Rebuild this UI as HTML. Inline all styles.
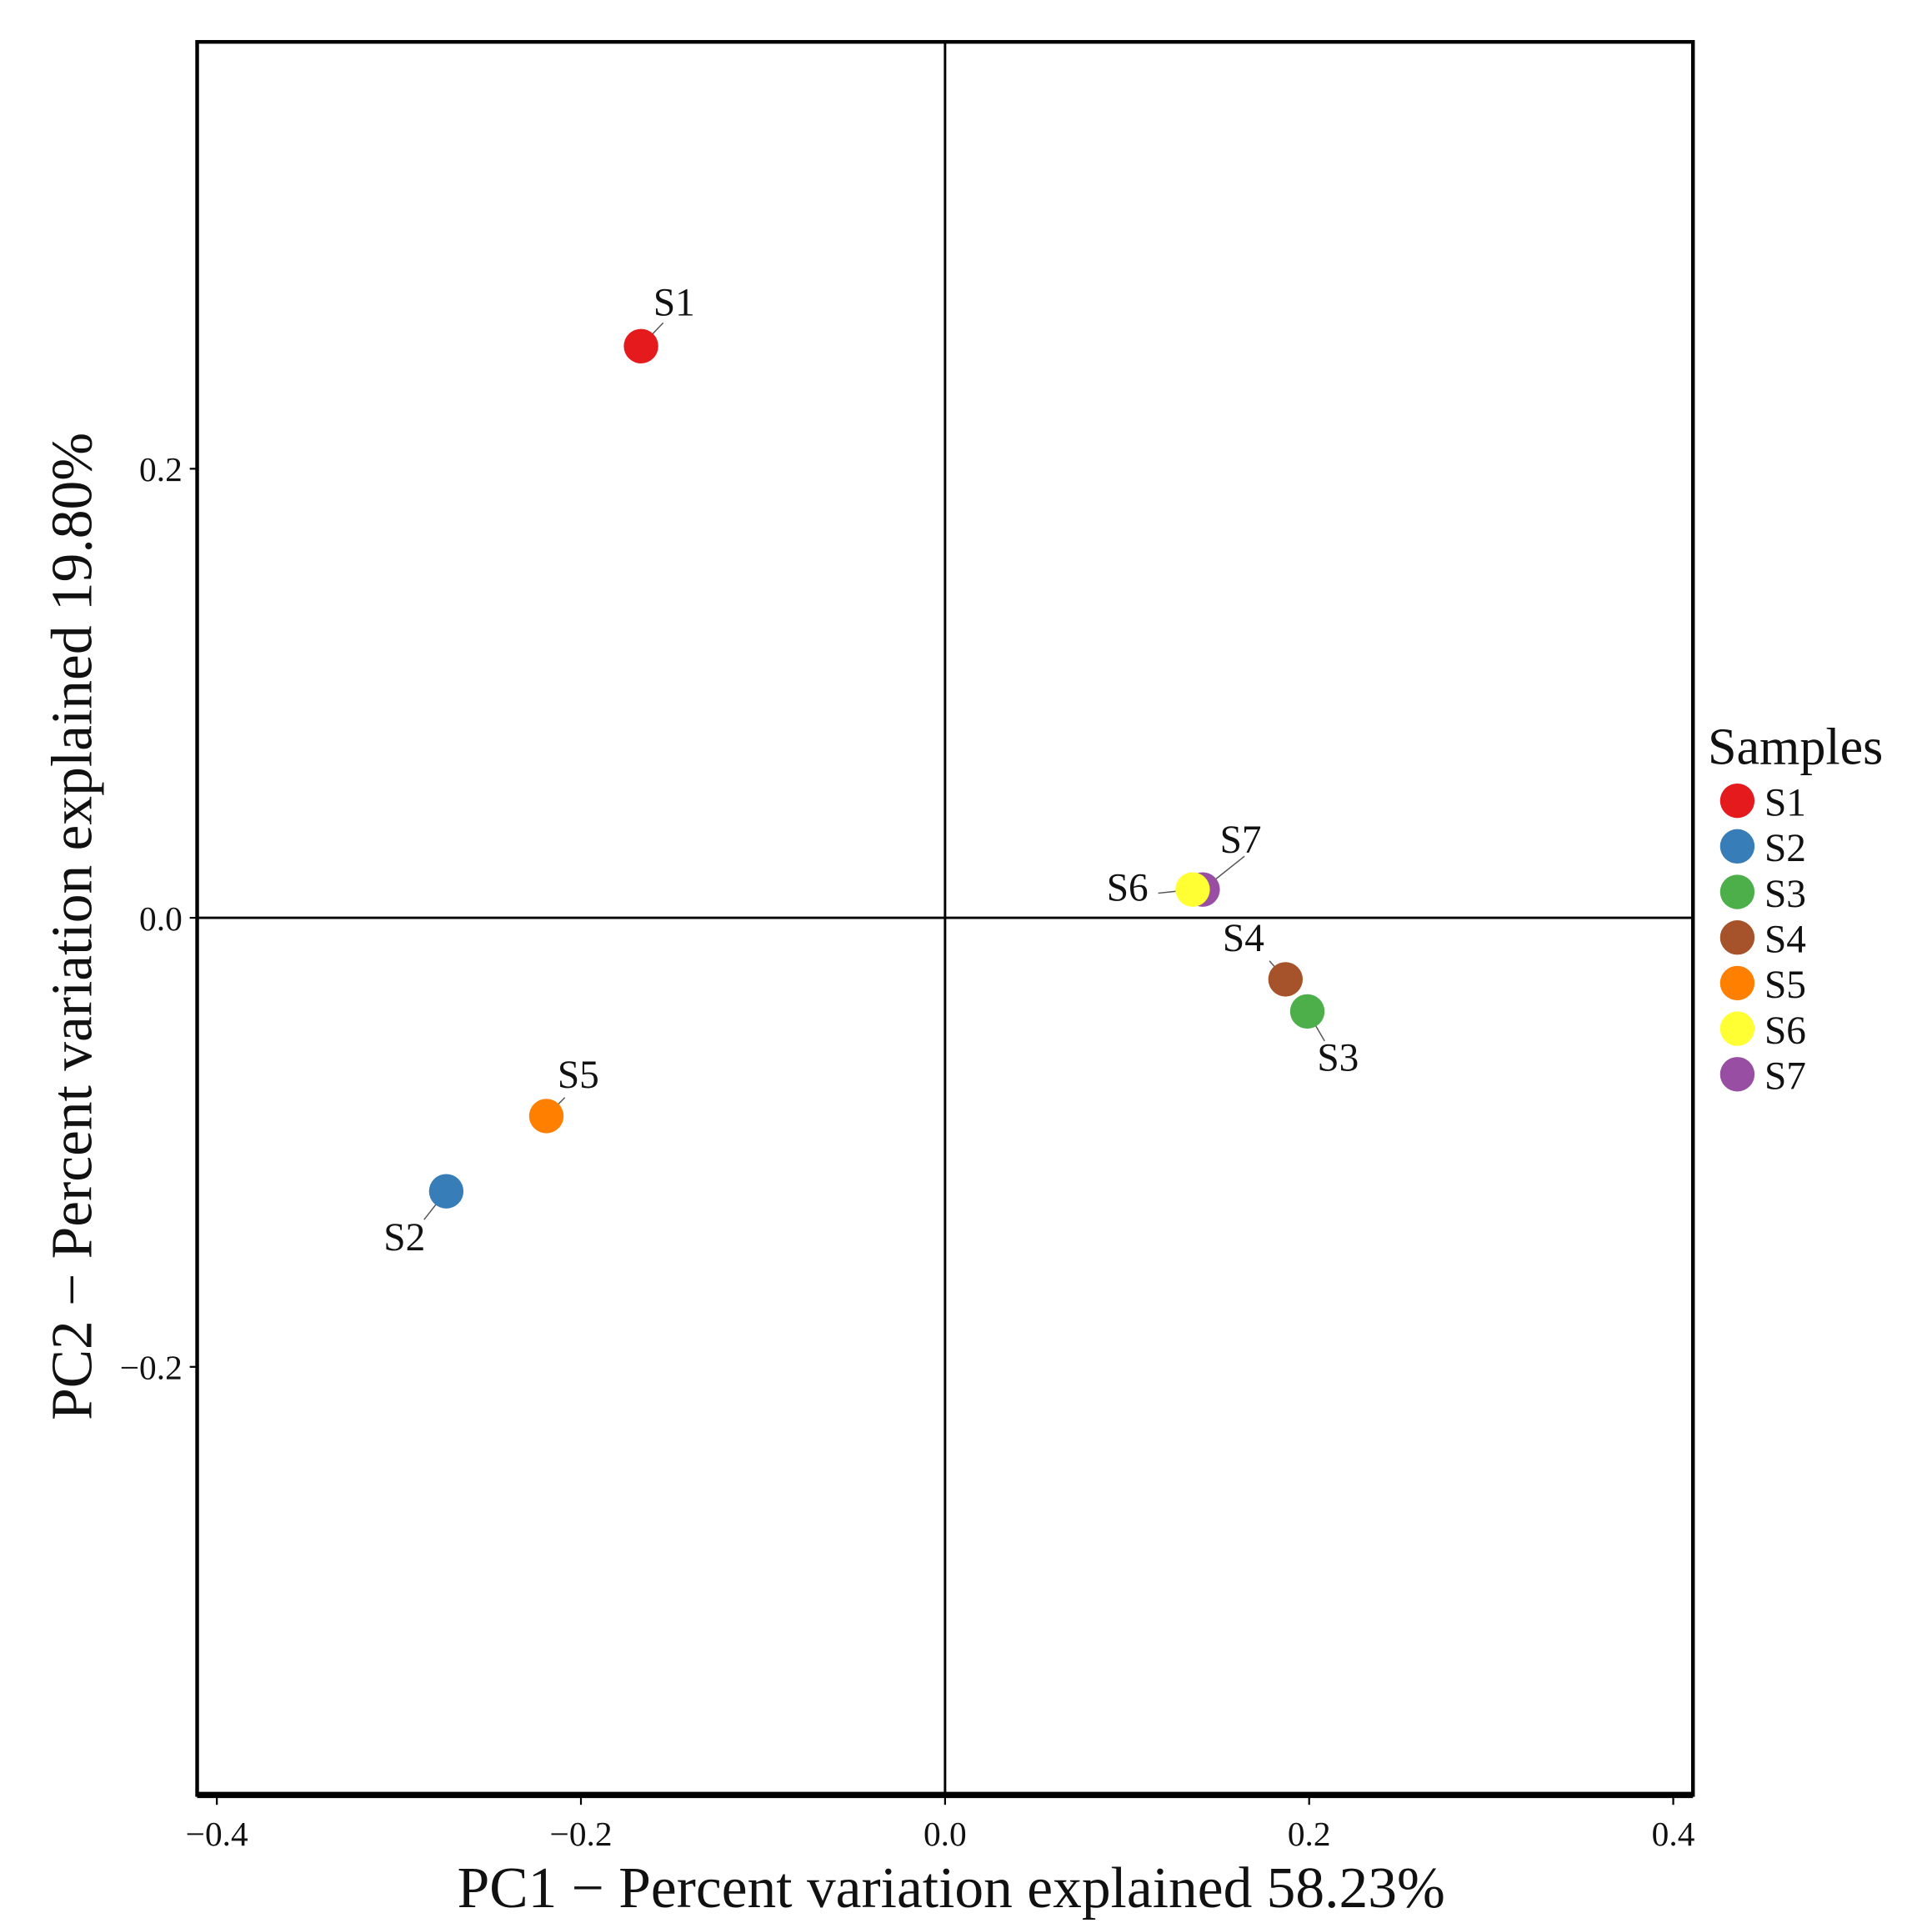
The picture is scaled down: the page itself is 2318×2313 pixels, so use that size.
<!DOCTYPE html>
<html><head><meta charset="utf-8"><style>
html,body{margin:0;padding:0;background:#fff;}
svg{display:block;}
text{font-family:"Liberation Serif",serif;fill:#111;}
</style></head><body>
<svg id="chart" width="2318" height="2313" viewBox="0 0 1568 1565" preserveAspectRatio="none" xmlns="http://www.w3.org/2000/svg">
<rect x="0" y="0" width="1568" height="1565" fill="#fff"/>
<g id="plot"></g>
</svg>
<script>
const samples = ["S1","S2","S3","S4","S5","S6","S7"];
const pc1 = [-0.167,-0.274,0.199,0.187,-0.219,0.136,0.1415];
const pc2 = [0.2546,-0.1218,-0.0417,-0.0274,-0.0883,0.0126,0.0126];
const colors = ["#e41a1c","#377eb8","#4daf4a","#a6522a","#ff7f00","#ffff33","#984ea3"];
const drawOrder = [0,1,2,3,4,6,5];
const xTicks = [-0.4,-0.2,0.0,0.2,0.4];
const yTicks = [-0.2,0.0,0.2];
const xTickLabels = ["\u22120.4","\u22120.2","0.0","0.2","0.4"];
const yTickLabels = ["\u22120.2","0.0","0.2"];
const labelPos = {S1:[10,-25,"start",18,-19],S2:[-17,48,"end",-18,23],S3:[8,48,"start",14,24],S4:[-51,-23,"start",-13,-15],S5:[9,-23,"start",15,-15],S6:[-36,9,"end",-28,3],S7:[14,-30,"start",34,-27]};

const L=160,R=1374,T=34,B=1457;
const X = v => 767 + v*1477.5;
const Y = v => 745 - v*1822.5;
const NS="http://www.w3.org/2000/svg";
const g=document.getElementById('plot');
function mk(tag,attrs,parent){const e=document.createElementNS(NS,tag);for(const k in attrs)e.setAttribute(k,attrs[k]);(parent||g).appendChild(e);return e;}

let e=mk('line',{x1:L,x2:R,y1:Y(0),y2:Y(0),stroke:'#000','stroke-width':2});


e=mk('line',{x1:X(0),x2:X(0),y1:T,y2:B,stroke:'#000','stroke-width':2});


e=mk('rect',{x:L,y:T,width:R-L,height:B-T,fill:'none',stroke:'#000','stroke-width':3});


e=mk('line',{x1:L,x2:R,y1:B,y2:B,stroke:'#000','stroke-width':5});



xTicks.forEach((t,i)=>{
  let tk=mk('line',{x1:X(t),x2:X(t),y1:B,y2:B+8,stroke:'#000','stroke-width':1.5});
  
  
  let tx=mk('text',{x:X(t),y:1498,'text-anchor':'middle','font-size':28});
  tx.textContent=xTickLabels[i];
  
  
});
yTicks.forEach((t,i)=>{
  let tk=mk('line',{x1:L-6,x2:L,y1:Y(t),y2:Y(t),stroke:'#000','stroke-width':1.5});
  
  
  let tx=mk('text',{x:L-12,y:Y(t)+10,'text-anchor':'end','font-size':28});
  tx.textContent=yTickLabels[i];
  
  
});

let xt=mk('text',{x:772,y:1548,'text-anchor':'middle','font-size':47});
xt.textContent='PC1 \u2212 Percent variation explained 58.23%';


let yt=mk('text',{x:0,y:0,'text-anchor':'middle','font-size':47,transform:'translate(74,752) rotate(-90)'});
yt.textContent='PC2 \u2212 Percent variation explained 19.80%';



samples.forEach((s,i)=>{
  const px=X(pc1[i]),py=Y(pc2[i]);
  const lp=labelPos[s];
  let ln=mk('line',{x1:px,y1:py,x2:px+lp[3],y2:py+lp[4],stroke:'#555','stroke-width':1});
  
  
});
drawOrder.forEach(i=>{
  const s=samples[i];
  const px=X(pc1[i]),py=Y(pc2[i]);
  let c=mk('circle',{cx:px,cy:py,r:14,fill:colors[i]});
  
  
});
samples.forEach((s,i)=>{
  const px=X(pc1[i]),py=Y(pc2[i]);
  const lp=labelPos[s];
  let t=mk('text',{x:px+lp[0],y:py+lp[1],'text-anchor':lp[2],'font-size':32});
  t.textContent=s;
  
  
});

let lt=mk('text',{x:1386,y:620,'font-size':42});
lt.textContent='Samples';


samples.forEach((s,i)=>{
  const cy=650+i*37;
  let c=mk('circle',{cx:1410,cy:cy,r:14,fill:colors[i]});
  
  
  let t=mk('text',{x:1432,y:cy+12,'font-size':32});
  t.textContent=s;
  
  
});
</script>
</body></html>
